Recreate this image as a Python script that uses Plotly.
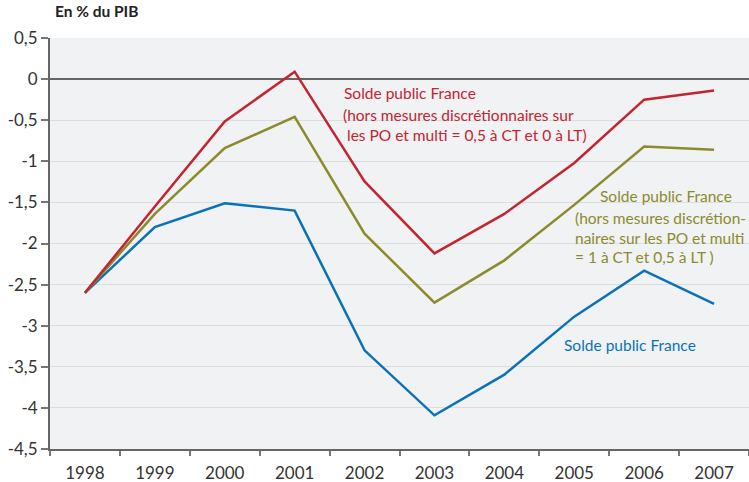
import plotly.graph_objects as go

years = ["1998", "1999", "2000", "2001", "2002", "2003", "2004", "2005", "2006", "2007"]
solde_red = [-2.60, -1.55, -0.515, 0.09, -1.245, -2.12, -1.64, -1.02, -0.25, -0.14]
solde_olive = [-2.60, -1.64, -0.84, -0.46, -1.88, -2.72, -2.205, -1.53, -0.82, -0.86]
solde_blue = [-2.60, -1.80, -1.51, -1.60, -3.30, -4.09, -3.595, -2.89, -2.33, -2.735]

y_tickvals = [0.5, 0, -0.5, -1, -1.5, -2, -2.5, -3, -3.5, -4, -4.5]
y_ticktext = ["0,5", "0", "-0,5", "-1", "-1,5", "-2", "-2,5", "-3", "-3,5", "-4", "-4,5"]

red_lines = ["Solde public France",
             "(hors mesures discrétionnaires sur",
             "les PO et multi = 0,5 à CT et 0 à LT)"]
olive_lines = ["Solde public France",
               "(hors mesures discrétion-",
               "naires sur les PO et multi",
               "= 1 à CT et 0,5 à LT )"]
blue_lines = ["Solde public France"]
title_text = "En % du PIB"

RED = "#c42430"
OLIVE = "#8b8b2c"
BLUE = "#0a72b9"
FONT = "Lato"

fig = go.Figure()
for vals, col in [(solde_blue, BLUE), (solde_olive, OLIVE), (solde_red, RED)]:
    fig.add_trace(go.Scatter(x=years, y=vals, mode="lines",
                             line=dict(color=col, width=2.5),
                             showlegend=False, hoverinfo="skip"))

W, H, L, R, T, B = 749, 482, 50, 0, 38, 33
pw = W - L - R
ph = H - T - B

def px2paper(px):
    return (px - L) / pw

def py2val(py):
    return (79.3 - py) / 82.25

ann = []
for txt, px, py in zip(red_lines, [342, 341, 345], [93, 115, 135]):
    ann.append(dict(text=txt, x=px2paper(px), y=py2val(py), xref="paper", yref="y",
                    xanchor="left", yanchor="middle", showarrow=False,
                    font=dict(color=RED, size=15.5, family=FONT)))
for txt, px, py in zip(olive_lines, [598, 573, 573, 573], [196, 218, 238, 257]):
    ann.append(dict(text=txt, x=px2paper(px), y=py2val(py), xref="paper", yref="y",
                    xanchor="left", yanchor="middle", showarrow=False,
                    font=dict(color=OLIVE, size=15.5, family=FONT)))
for txt, px, py in zip(blue_lines, [562], [345]):
    ann.append(dict(text=txt, x=px2paper(px), y=py2val(py), xref="paper", yref="y",
                    xanchor="left", yanchor="middle", showarrow=False,
                    font=dict(color=BLUE, size=15.5, family=FONT)))
ann.append(dict(text="<b>" + title_text + "</b>", x=px2paper(96),
                y=1 + (T - 11) / ph, xref="paper", yref="paper",
                xanchor="center", yanchor="middle", showarrow=False,
                font=dict(color="#222222", size=15.5, family=FONT)))

fig.update_layout(
    width=W, height=H,
    margin=dict(l=L, r=R, t=T, b=B, pad=0),
    paper_bgcolor="white",
    plot_bgcolor="#f1f2f4",
    font=dict(family=FONT, size=17, color="#333333"),
    annotations=ann,
    showlegend=False,
)

fig.update_xaxes(
    type="category", range=[-0.5, 9.5], tickson="boundaries",
    ticks="outside", ticklen=5, tickwidth=1.5, tickcolor="#777777",
    showgrid=False, showline=True, linecolor="#666666", linewidth=2,
    tickfont=dict(size=17, family=FONT, color="#333333"),
    ticklabelstandoff=8,
)
fig.update_yaxes(
    range=[-4.5, 0.5], tickvals=y_tickvals, ticktext=y_ticktext,
    ticks="outside", ticklen=7, tickwidth=1.5, tickcolor="#777777",
    showgrid=True, gridcolor="#dcdde0", gridwidth=1,
    zeroline=True, zerolinecolor="#666666", zerolinewidth=2,
    showline=True, linecolor="#666666", linewidth=2,
    tickfont=dict(size=17, family=FONT, color="#333333"),
)

fig.write_html("out.html", config={"displayModeBar": False},
               post_script="document.body.style.margin='0';document.body.style.overflow='hidden';")
